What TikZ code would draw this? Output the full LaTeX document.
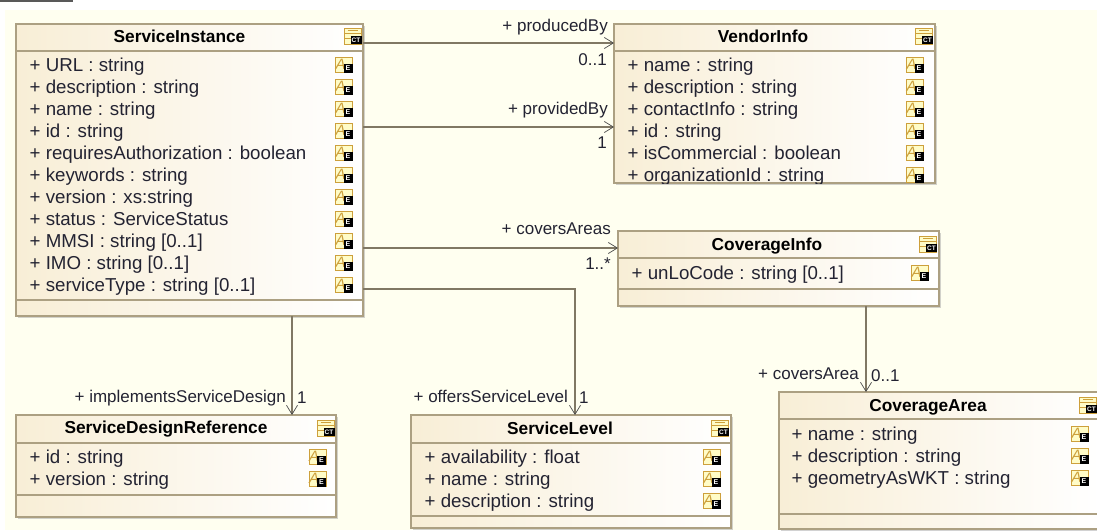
\documentclass[tikz,border=0pt]{standalone}
\usepackage{fontspec}
\setmainfont{Liberation Sans}
\usetikzlibrary{arrows.meta, shadows}
\usepackage{xcolor}
\definecolor{mycream}{RGB}{255,255,240}
\definecolor{mytan}{RGB}{248,238,214}
\definecolor{myline}{RGB}{172,160,130}
\definecolor{myconn}{RGB}{128,120,100}
\definecolor{myink}{RGB}{35,35,50}
\definecolor{myicon}{RGB}{205,160,60}
\newcommand{\AttrFont}{\fontsize{18.7}{22}\selectfont}
\newcommand{\RoleFont}{\fontsize{17}{20}\selectfont}
\newcommand{\NameFont}{\fontsize{17.3}{20}\selectfont\bfseries}
\tikzset{
  umlclass/.style={draw=myline, line width=1.3pt, left color=mytan, right color=white,
    anchor=north west, inner sep=0pt, outer sep=0pt,
    drop shadow={shadow xshift=1.5pt, shadow yshift=-1.5pt, fill=black!35, opacity=0.5}},
  compartment/.style={draw=myline, line width=1.3pt},
  classname/.style={text=black, font=\NameFont, inner sep=0pt},
  attrtext/.style={anchor=base west, text=myink, font=\AttrFont, inner sep=0pt},
  role/.style={text=myink, font=\RoleFont, inner sep=0pt},
  assoc/.style={draw=myconn, line width=1.1pt, -{Straight Barb[length=9pt, width=11pt, line width=0.7pt, black!70]}},
  attricon/.pic={
    \draw[myicon, fill=yellow!22, line width=1pt] (-8.5,-7.5) rectangle (8.5,7.5);
    \node[inner sep=0pt, text=myicon, font=\fontsize{15}{15}\selectfont\itshape] at (-3.5,-1) {A};
    \node[fill=black, text=white, minimum size=9pt, inner sep=0pt, font=\fontsize{7}{7}\selectfont\bfseries] at (4,3.5) {E};
  },
  classicon/.pic={
    \draw[myicon, fill=yellow!22, line width=1pt] (-8.5,-8) rectangle (8.5,8);
    \draw[myicon, line width=0.8pt] (-8.5,-3) -- (8.5,-3) (-8.5,2) -- (8.5,2) (-5,-5.5) -- (5,-5.5);
    \node[fill=black, text=white, minimum width=11pt, minimum height=8pt, inner sep=0pt, font=\fontsize{6.5}{6.5}\selectfont\bfseries] at (3.5,4) {CT};
  }
}
\newcommand{\AttrRows}[5]{%
  \foreach \txt [count=\i from 0] in {#5} {
    \pgfmathsetmacro{\rowy}{#4+22*\i}
    \node[attrtext] (#1-\i) at (#2,\rowy+6.5) {\txt};
    \pic at (#3,\rowy) {attricon};
  }
}

\begin{document}
\begin{tikzpicture}[x=1pt,y=-1pt]
  \useasboundingbox (0,0) rectangle (1097,530);
  \clip (0,0) rectangle (1097,530);
  \fill[mycream] (5,10) rectangle (1097,530);
  \fill[black!65] (0,0) rectangle (73,2);

  % classes
  \node[umlclass, minimum width=347pt, minimum height=292pt] (SI) at (16,24) {};
  \node[umlclass, minimum width=321pt, minimum height=159pt] (VI) at (614,24) {};
  \node[umlclass, minimum width=321pt, minimum height=75pt]  (CI) at (618,231) {};
  \node[umlclass, minimum width=320pt, minimum height=102pt] (SD) at (16,415) {};
  \node[umlclass, minimum width=320pt, minimum height=113pt] (SL) at (411,415) {};
  \node[umlclass, minimum width=320pt, minimum height=137pt] (CA) at (779,392) {};

  \draw[compartment] (SI.west |- 0,51) -- (SI.east |- 0,51);
  \draw[compartment] (SI.west |- 0,300) -- (SI.east |- 0,300);
  \draw[compartment] (VI.west |- 0,51) -- (VI.east |- 0,51);
  \draw[compartment] (CI.west |- 0,258) -- (CI.east |- 0,258);
  \draw[compartment] (CI.west |- 0,289) -- (CI.east |- 0,289);
  \draw[compartment] (SD.west |- 0,443) -- (SD.east |- 0,443);
  \draw[compartment] (SD.west |- 0,495) -- (SD.east |- 0,495);
  \draw[compartment] (SL.west |- 0,443) -- (SL.east |- 0,443);
  \draw[compartment] (SL.west |- 0,516) -- (SL.east |- 0,516);
  \draw[compartment] (CA.west |- 0,419) -- (CA.east |- 0,419);
  \draw[compartment] (CA.west |- 0,514) -- (CA.east |- 0,514);

  \node[classname] (SIname) at (179.5,36) {ServiceInstance};
  \node[classname] (VIname) at (763,36) {VendorInfo};
  \node[classname] (CIname) at (767,246) {CoverageInfo};
  \node[classname] (SDname) at (166,429.5) {ServiceDesignReference};
  \node[classname] (SLname) at (560,428.5) {ServiceLevel};
  \node[classname] (CAname) at (928,407) {CoverageArea};

  \pic at (352.5,36) {classicon};
  \pic at (924,36) {classicon};
  \pic at (928,244) {classicon};
  \pic at (325.5,428) {classicon};
  \pic at (720,428) {classicon};
  \pic at (1088,405) {classicon};

  % attributes
  \AttrRows{SIa}{29.5}{344}{65}{+ URL : string, + description : string, + name : string, + id : string,
    + requiresAuthorization : boolean, + keywords : string, + version : xs:string, + status : ServiceStatus,
    + MMSI : string [0..1], + IMO : string [0..1], + serviceType : string [0..1]}
  \begin{scope}
    \clip (VI.north west) rectangle (VI.south east);
    \AttrRows{VIa}{627.5}{915}{65}{+ name : string, + description : string, + contactInfo : string, + id : string,
      + isCommercial : boolean, + organizationId : string}
  \end{scope}
  \AttrRows{CIa}{631.5}{920}{273}{+ unLoCode : string [0..1]}
  \AttrRows{SDa}{29.5}{317.5}{457}{+ id : string, + version : string}
  \AttrRows{SLa}{424.5}{712}{457}{+ availability : float, + name : string, + description : string}
  \AttrRows{CAa}{791.5}{1080}{434}{+ name : string, + description : string, + geometryAsWKT : string}

  % associations
  \draw[assoc] ([yshift=-19pt]SI.north east) -- ([yshift=-19pt]VI.north west);
  \draw[assoc] ([yshift=-103pt]SI.north east) -- ([yshift=-103pt]VI.north west);
  \draw[assoc] ([yshift=-224pt]SI.north east) -- ([yshift=-17pt]CI.north west);
  \draw[assoc] ([yshift=-265pt]SI.north east) -| ([xshift=164pt]SL.north west);
  \draw[assoc] ([xshift=276pt]SI.south west) -- ([xshift=276pt]SD.north west);
  \draw[assoc] ([xshift=248pt]CI.south west) -- ([xshift=87pt]CA.north west);

  \node[role, anchor=east] (producedBy) at (608,27) {+ producedBy};
  \node[role, anchor=east] (producedN)  at (607,60) {0..1};
  \node[role, anchor=east] (providedBy) at (608,110) {+ providedBy};
  \node[role, anchor=east] (providedN)  at (607,143) {1};
  \node[role, anchor=east] (coversAreas) at (611,229) {+ coversAreas};
  \node[role, anchor=east] (coversN)    at (611,264) {1..*};
  \node[role, anchor=east] (implements) at (286,398) {+ implementsServiceDesign};
  \node[role, anchor=west] (implementsN) at (297,398) {1};
  \node[role, anchor=east] (offers)     at (568,396) {+ offersServiceLevel};
  \node[role, anchor=west] (offersN)    at (579,398) {1};
  \node[role, anchor=east] (coversArea) at (859,373.5) {+ coversArea};
  \node[role, anchor=west] (coversAreaN) at (871,376) {0..1};
\end{tikzpicture}
\end{document}
